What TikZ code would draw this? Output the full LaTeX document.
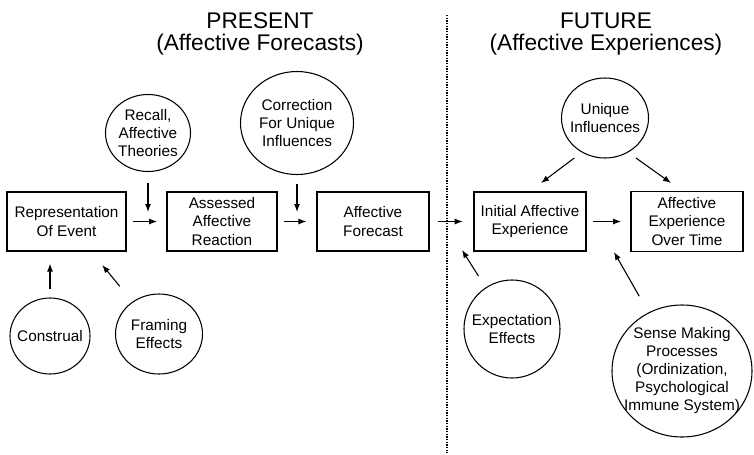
\documentclass[tikz,border=0pt]{standalone}
\usepackage{fontspec}
\setmainfont{Liberation Sans}
\usetikzlibrary{arrows.meta,shapes.geometric}

\begin{document}
\begin{tikzpicture}[x=0.75pt,y=-0.75pt,
    stage/.style={draw,line width=0.9pt,align=center,inner sep=0pt,
        minimum width=84pt,minimum height=44.25pt,
        font=\fontsize{11.5}{13.9}\selectfont},
    infl/.style={draw,ellipse,line width=0.8pt,align=center,inner sep=0pt,
        font=\fontsize{11.5}{13.5}\selectfont},
    flow/.style={-{Latex[length=6pt,width=4.5pt]},line width=0.8pt,
        shorten <=5pt,shorten >=7pt},
    cue/.style={-{Latex[length=6pt,width=4.5pt]},line width=0.8pt},
    heading/.style={font=\fontsize{17}{16.5}\selectfont,align=center,inner sep=0pt}]
            \useasboundingbox (0,0) rectangle (754,454);

            \node[heading] (present) at (260,33.6) {PRESENT\\(Affective Forecasts)};
            \node[heading] (future) at (606,33.6) {FUTURE\\(Affective Experiences)};

            \draw[line width=0.9pt,dash pattern=on 0.9pt off 1.1pt] (447,15) -- (447,453);

            % the chain of boxes
            \node[stage,minimum width=89.25pt] (rep) at (66.5,221.5) {Representation\\Of Event};
            \node[stage,minimum width=82.5pt] (assess) at (222,221.5) {Assessed\\Affective\\Reaction};
            \node[stage,line width=1.8pt] (fcast) at (373,221.5) {Affective\\Forecast};
            \node[stage] (initexp) at (530,221.5) {Initial Affective\\Experience};
            \node[stage,minimum height=45pt] (overtime) at (687,221.5) {Affective\\Experience\\Over Time};

            \node[infl,minimum width=63.75pt,minimum height=57.75pt]
                (recall) at (148,133) {Recall,\\Affective\\Theories};
            \node[infl,minimum width=84.75pt,minimum height=77.25pt]
                (correct) at (297,123) {Correction\\For Unique\\Influences};
            \node[infl,minimum width=65.25pt,minimum height=60pt,inner xsep=-3.5pt]
                (unique) at (605,118) {Unique\\Influences};
            \node[infl,minimum width=60pt,minimum height=57pt,inner xsep=-3.5pt]
                (construal) at (50,336) {Construal};
            \node[infl,minimum width=65.25pt,minimum height=60pt]
                (framing) at (159,334) {Framing\\Effects};
            \node[infl,minimum width=72pt,minimum height=73.5pt,inner xsep=-5pt]
                (expect) at (512,329) {Expectation\\Effects};
            \node[infl,minimum width=105pt,minimum height=99pt,inner xsep=-6.6pt]
                (sense) at (682,371) {Sense Making\\Processes\\(Ordinization,\\Psychological\\Immune System)};

            \coordinate (recallTip) at (148,212);
            \coordinate (correctTip) at (297,212);
            \coordinate (uniqueTipA) at (541,183);
            \coordinate (uniqueTipB) at (671,183);
            \coordinate (expectTip) at (462,250);
            \coordinate (senseTip) at (614,252);

            \draw[flow] (rep) -- (assess);
            \draw[flow] (assess) -- (fcast);
            \draw[flow,shorten <=6pt,shorten >=8pt] (fcast) -- (initexp);
            \draw[flow] (initexp) -- (overtime);

            \draw[cue,shorten <=8pt] (recall) -- (recallTip);
            \draw[cue,shorten <=7pt] (correct) -- (correctTip);
            \draw[cue,shorten <=7pt] (unique.236) -- (uniqueTipA);
            \draw[cue,shorten <=7pt] (unique.304) -- (uniqueTipB);
            \draw[cue,shorten <=6pt,shorten >=9pt] (construal) -- (construal |- rep.south);
            \draw[cue,shorten <=15pt,shorten >=13pt] (framing) -- (rep);
            \draw[cue,shorten <=10pt] (expect) -- (expectTip);
            \draw[cue,shorten <=14pt] (sense) -- (senseTip);

            \end{tikzpicture}
\end{document}
